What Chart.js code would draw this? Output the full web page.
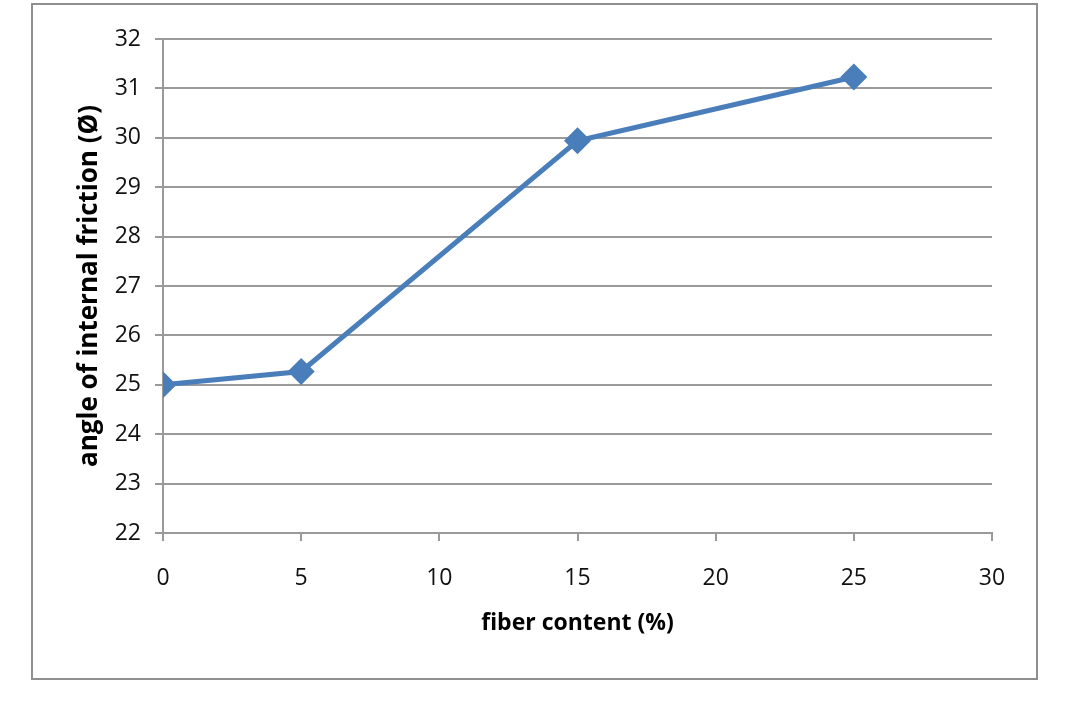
<!DOCTYPE html>
<html>
<head>
<meta charset="utf-8">
<script src="https://cdn.jsdelivr.net/npm/chart.js@4.4.0/dist/chart.umd.min.js"></script>
<style>
  html, body { margin: 0; padding: 0; background: #fff; }
  #wrap { position: relative; width: 1068px; height: 702px; }
  #frame { position: absolute; left: 31px; top: 3px; width: 1003px; height: 673px; border: 2px solid #8f8f8f; }
  canvas { position: absolute; left: 0; top: 0; }
</style>
</head>
<body>
<div id="wrap">
  <div id="frame"></div>
  <canvas id="chart" width="1068" height="702"></canvas>
</div>
<script>
// ---------------- Data ----------------
const fiberContent = [0, 5, 15, 25];
const frictionAngle = [25.0, 25.27, 29.94, 31.23];
const xTicks = [0, 5, 10, 15, 20, 25, 30];
const yTicks = [22, 23, 24, 25, 26, 27, 28, 29, 30, 31, 32];

const gridColor = '#9a9a9a';
const labelFont = { family: 'Open Sans', size: 23 };

// ---------------- Chart ----------------
const ctx = document.getElementById('chart').getContext('2d');
new Chart(ctx, {
    type: 'line',
    data: {
        datasets: [{
            data: fiberContent.map((x, i) => ({ x, y: frictionAngle[i] })),
            borderColor: '#4a7ebb',
            backgroundColor: '#4a7ebb',
            borderWidth: 5,
            pointStyle: 'rectRot',
            pointRadius: 10,
            pointHoverRadius: 10,
            tension: 0
        }]
    },
    options: {
        responsive: false,
        animation: false,
        events: [],
        layout: { padding: { top: 39, right: 76, left: 0, bottom: 0 } },
        plugins: { legend: { display: false }, tooltip: { enabled: false } },
        scales: {
            x: {
                type: 'linear',
                min: 0, max: 30,
                afterBuildTicks: s => { s.ticks = xTicks.map(v => ({ value: v })); },
                afterFit: s => { s.height = 169; },
                grid: { drawOnChartArea: false, drawTicks: true, tickLength: 8, color: gridColor, lineWidth: 2 },
                border: { color: gridColor, width: 2 },
                ticks: { color: '#111', font: labelFont, padding: 24, maxRotation: 0 },
                title: { display: true, text: 'fiber content (%)', color: '#000', font: { family: 'Open Sans', size: 23, weight: 'bold' }, padding: { bottom: 65 } }
            },
            y: {
                min: 22, max: 32,
                afterBuildTicks: s => { s.ticks = yTicks.map(v => ({ value: v })); },
                afterFit: s => { s.width = 163; },
                grid: { drawTicks: true, tickLength: 8, color: gridColor, lineWidth: 2 },
                border: { color: gridColor, width: 2 },
                ticks: { color: '#111', font: labelFont, padding: 14 },
                title: { display: true, text: 'angle of internal friction (Ø)', color: '#000', font: { family: 'Open Sans', size: 26, weight: 'bold' }, padding: { top: 74 } }
            }
        }
    }
});
</script>
</body>
</html>
